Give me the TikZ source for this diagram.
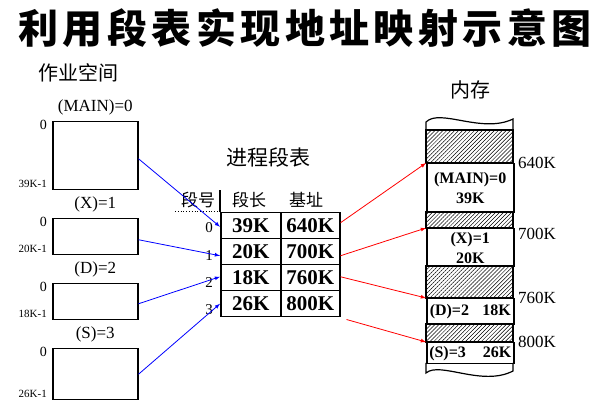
\documentclass[tikz,border=0pt]{standalone}
\usepackage{fontspec}
\setmainfont{Liberation Serif}
\newfontfamily\cjk{Noto Sans CJK SC}
\newfontfamily\cjktitle{Noto Sans CJK SC}[LetterSpace=11]
\usetikzlibrary{positioning,patterns.meta}

\tikzset{
  segbox/.style={draw,line width=1.5pt,minimum width=85pt,inner sep=0pt,anchor=north west},
  cell/.style={draw,line width=1.5pt,minimum height=26pt,inner sep=0pt,anchor=north west,
    font=\fontsize{21}{21}\selectfont\bfseries},
  memblk/.style={draw,line width=1.5pt,minimum width=87pt,inner sep=0pt,anchor=north west,
    align=center,font=\fontsize{16}{20}\selectfont\bfseries},
  hatch/.style={draw,line width=1.5pt,pattern={Lines[angle=45,distance=2.8pt,line width=0.5pt]}},
  seglabel/.style={inner sep=0pt,font=\fontsize{17}{17}\selectfont},
  addr/.style={inner sep=0pt,anchor=east,font=\fontsize{14}{14}\selectfont},
  addrend/.style={inner sep=0pt,anchor=east,font=\fontsize{11}{11}\selectfont},
}

\begin{document}
\begin{tikzpicture}[x=1pt,y=-1pt]

\useasboundingbox (0,0) rectangle (605,419);

\node [font=\fontsize{40}{40}\selectfont\cjktitle\bfseries] (title) at (305,28) {利用段表实现地址映射示意图};

% job space
\node [font=\fontsize{20}{20}\selectfont\cjk] (job) at (78,73) {作业空间};

\node [segbox,minimum height=68pt] (main) at (52,121) {};
\node [segbox,minimum height=36pt] (segx) at (52,218) {};
\node [segbox,minimum height=36pt] (segd) at (52,283) {};
\node [segbox,minimum height=51pt] (segs) at (52,348) {};

\node [seglabel,above=6pt of main] (lmain) {(MAIN)=0};
\node [seglabel,above=6pt of segx] (lx) {(X)=1};
\node [seglabel,above=6pt of segd] (ld) {(D)=2};
\node [seglabel,above=6pt of segs] (ls) {(S)=3};

\node [addr] (a0) at ([xshift=-5pt,yshift=-4pt]main.north west) {0};
\node [addrend] (e0) at ([xshift=-5pt,yshift=7pt]main.south west) {39K-1};
\node [addr] (a1) at ([xshift=-5pt,yshift=-4pt]segx.north west) {0};
\node [addrend] (e1) at ([xshift=-5pt,yshift=7pt]segx.south west) {20K-1};
\node [addr] (a2) at ([xshift=-5pt,yshift=-4pt]segd.north west) {0};
\node [addrend] (e2) at ([xshift=-5pt,yshift=7pt]segd.south west) {18K-1};
\node [addr] (a3) at ([xshift=-5pt,yshift=-4pt]segs.north west) {0};
\node [addrend] (e3) at ([xshift=-5pt,yshift=7pt]segs.south west) {26K-1};

% segment table
\node [font=\fontsize{21}{21}\selectfont\cjk] (ttitle) at (268,158) {进程段表};

\node [font=\fontsize{17}{17}\selectfont\cjk] (hnum) at (198,200) {段号};
\node [font=\fontsize{17}{17}\selectfont\cjk] (hlen) at (249,200) {段长};
\node [font=\fontsize{17}{17}\selectfont\cjk] (hbase) at (306,200) {基址};

\node [cell,minimum width=60pt] (l0) at (220,212) {39K};
\node [cell,minimum width=59pt] (b0) at (280,212) {640K};
\node [cell,minimum width=60pt] (l1) at (220,238) {20K};
\node [cell,minimum width=59pt] (b1) at (280,238) {700K};
\node [cell,minimum width=60pt] (l2) at (220,264) {18K};
\node [cell,minimum width=59pt] (b2) at (280,264) {760K};
\node [cell,minimum width=60pt] (l3) at (220,290) {26K};
\node [cell,minimum width=59pt] (b3) at (280,290) {800K};

\draw[line width=1.5pt] (l0.north west) -- ++(0,-22);
\draw[dotted,thick] (175,211) -- (218,211);

\node [font=\fontsize{15}{15}\selectfont] (n0) at (209,228) {0};
\node [font=\fontsize{15}{15}\selectfont] (n1) at (209,256) {1};
\node [font=\fontsize{15}{15}\selectfont] (n2) at (209,283) {2};
\node [font=\fontsize{15}{15}\selectfont] (n3) at (209,310) {3};

% memory
\node [font=\fontsize{20}{20}\selectfont\cjk] (mem) at (470,90) {内存};

\draw[line width=1.2pt] (426,130) -- (426,122) .. controls (440,108) and (482,134) .. (513,119) -- (513,130);
\draw[hatch] (426,130) rectangle (513,163);
\node [memblk,minimum height=49pt] (mmain) at (426,163) {(MAIN)=0\\39K};
\draw[hatch] (426,212) rectangle (513,228);
\node [memblk,minimum height=38pt] (mx) at (426,228) {(X)=1\\20K};
\draw[hatch] (426,266) rectangle (513,298);
\node [memblk,minimum height=26pt] (md) at (426,298) {\makebox[81pt]{(D)=2\hfill18K}};
\draw[hatch] (426,324) rectangle (513,342);
\node [memblk,minimum height=21pt] (ms) at (426,342) {\makebox[82pt]{(S)=3\hfill26K}};
\draw[line width=1.2pt] (426,363) -- (426,373) .. controls (440,361) and (482,387) .. (513,371) -- (513,363);

\node [inner sep=0pt,anchor=west,font=\fontsize{17}{17}\selectfont] (k640) at (518,163) {640K};
\node [inner sep=0pt,anchor=west,font=\fontsize{17}{17}\selectfont] (k700) at (518,234) {700K};
\node [inner sep=0pt,anchor=west,font=\fontsize{17}{17}\selectfont] (k760) at (518,298) {760K};
\node [inner sep=0pt,anchor=west,font=\fontsize{17}{17}\selectfont] (k800) at (518,342) {800K};

% arrows
\draw[blue,line width=0.8pt,-latex] ([yshift=-3pt]main.east) -- ([yshift=-1pt]l0.west);
\draw[blue,line width=0.8pt,-latex] ([yshift=-3pt]segx.east) -- ([yshift=-4pt]l1.west);
\draw[blue,line width=0.8pt,-latex] ([yshift=-2pt]segd.east) -- ([yshift=1pt]l2.west);
\draw[blue,line width=0.8pt,-latex] (segs.east) -- (l3.west);

\draw[red,line width=0.8pt,-latex] ([yshift=3pt]b0.east) -- (mmain.north west);
\draw[red,line width=0.8pt,-latex] ([yshift=-4pt]b1.east) -- (mx.north west);
\draw[red,line width=0.8pt,-latex] ([yshift=1pt]b2.east) -- (md.north west);
\draw[red,line width=0.8pt,-latex] ([xshift=6pt,yshift=-2pt]b3.south east) -- (ms.north west);

\end{tikzpicture}
\end{document}
